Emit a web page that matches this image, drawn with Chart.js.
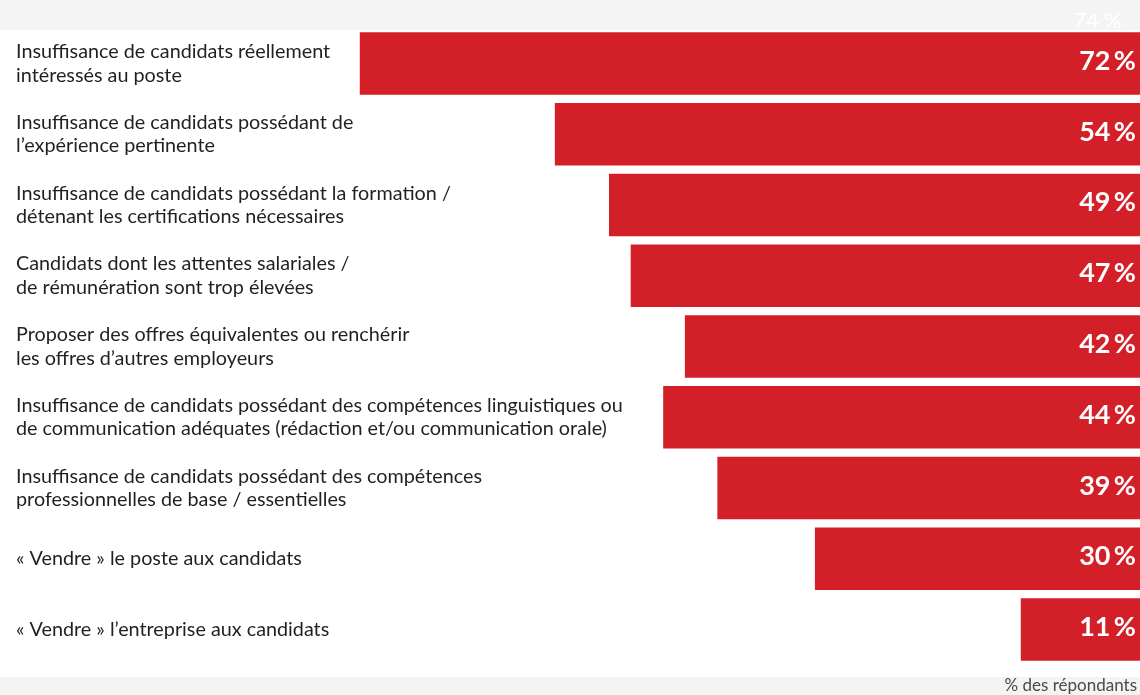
<!DOCTYPE html>
<html lang="fr">
<head>
    <meta charset="UTF-8">
    <title>Difficultés de recrutement</title>
    <script src="https://cdn.jsdelivr.net/npm/chart.js"></script>
    <style>
        html, body { margin: 0; padding: 0; background: #f4f4f4; }
        #wrap { width: 1140px; height: 695px; position: relative; }
    </style>
</head>
<body>
    <div id="wrap">
        <canvas id="barChart"></canvas>
    </div>

    <script>
        // categories (one entry per bar, split on two lines where needed)
        var categories = [
            ['Insuffisance de candidats réellement', 'intéressés au poste'],
            ['Insuffisance de candidats possédant de', 'l\u2019expérience pertinente'],
            ['Insuffisance de candidats possédant la formation /', 'détenant les certifications nécessaires'],
            ['Candidats dont les attentes salariales /', 'de rémunération sont trop élevées'],
            ['Proposer des offres équivalentes ou renchérir', 'les offres d\u2019autres employeurs'],
            ['Insuffisance de candidats possédant des compétences linguistiques ou', 'de communication adéquates (rédaction et/ou communication orale)'],
            ['Insuffisance de candidats possédant des compétences', 'professionnelles de base / essentielles'],
            '\u00ab Vendre \u00bb le poste aux candidats',
            '\u00ab Vendre \u00bb l\u2019entreprise aux candidats'
        ];
        var values = [72, 54, 49, 47, 42, 44, 39, 30, 11];
        var unitLabel = '% des répondants';
        var headerValue = '74 %';

        var barRed = '#d31f27';

        // gray page with a white panel behind the rows
        var backdrop = {
            id: 'backdrop',
            beforeDraw: function (chart) {
                var c = chart.ctx;
                c.save();
                c.fillStyle = '#f4f4f4';
                c.fillRect(0, 0, chart.width, chart.height);
                c.fillStyle = '#ffffff';
                c.fillRect(0, 30, chart.width, 647);
                c.restore();
            }
        };

        // percentage written inside the right end of each bar, plus footer texts
        var valueLabels = {
            id: 'valueLabels',
            afterDatasetsDraw: function (chart) {
                var c = chart.ctx;
                var area = chart.chartArea;
                var meta = chart.getDatasetMeta(0);
                c.save();
                c.fillStyle = '#ffffff';
                c.font = 'bold 27px Lato';
                c.textAlign = 'right';
                c.textBaseline = 'alphabetic';
                meta.data.forEach(function (bar, i) {
                    c.fillText(values[i] + '\u2009%', area.right - 4, bar.y + 6.5);
                });

                c.textBaseline = 'middle';
                c.font = '22px Lato';
                c.fillText(headerValue, area.right - 18, 21);

                c.fillStyle = '#4a4a4a';
                c.font = '17px Lato';
                c.fillText(unitLabel, area.right - 3, 686);
                c.restore();
            }
        };

        document.addEventListener("DOMContentLoaded", function () {
            var ctx = document.getElementById("barChart").getContext("2d");

            new Chart(ctx, {
                type: 'bar',
                data: {
                    labels: categories,
                    datasets: [{
                        data: values,
                        backgroundColor: barRed,
                        borderWidth: 0,
                        barPercentage: 0.883,
                        categoryPercentage: 1
                    }]
                },
                options: {
                    indexAxis: 'y',
                    responsive: true,
                    maintainAspectRatio: false,
                    animation: false,
                    layout: { padding: { top: 28, bottom: 30, left: 0, right: 0 } },
                    plugins: {
                        legend: { display: false },
                        tooltip: { enabled: false }
                    },
                    scales: {
                        x: {
                            display: false,
                            reverse: true,
                            min: 0,
                            max: 105.2
                        },
                        y: {
                            grid: { display: false, drawTicks: false },
                            border: { display: false },
                            // labels sit inside the plot, so the axis takes no room
                            afterFit: function (scale) {
                                scale.width = 0;
                                scale.paddingTop = 0;
                                scale.paddingBottom = 0;
                            },
                            ticks: {
                                mirror: true,
                                padding: 16,
                                color: '#231f20',
                                font: { family: 'Lato', size: 19.8, lineHeight: 1.19 }
                            }
                        }
                    }
                },
                plugins: [backdrop, valueLabels]
            });
        });
    </script>
</body>
</html>
